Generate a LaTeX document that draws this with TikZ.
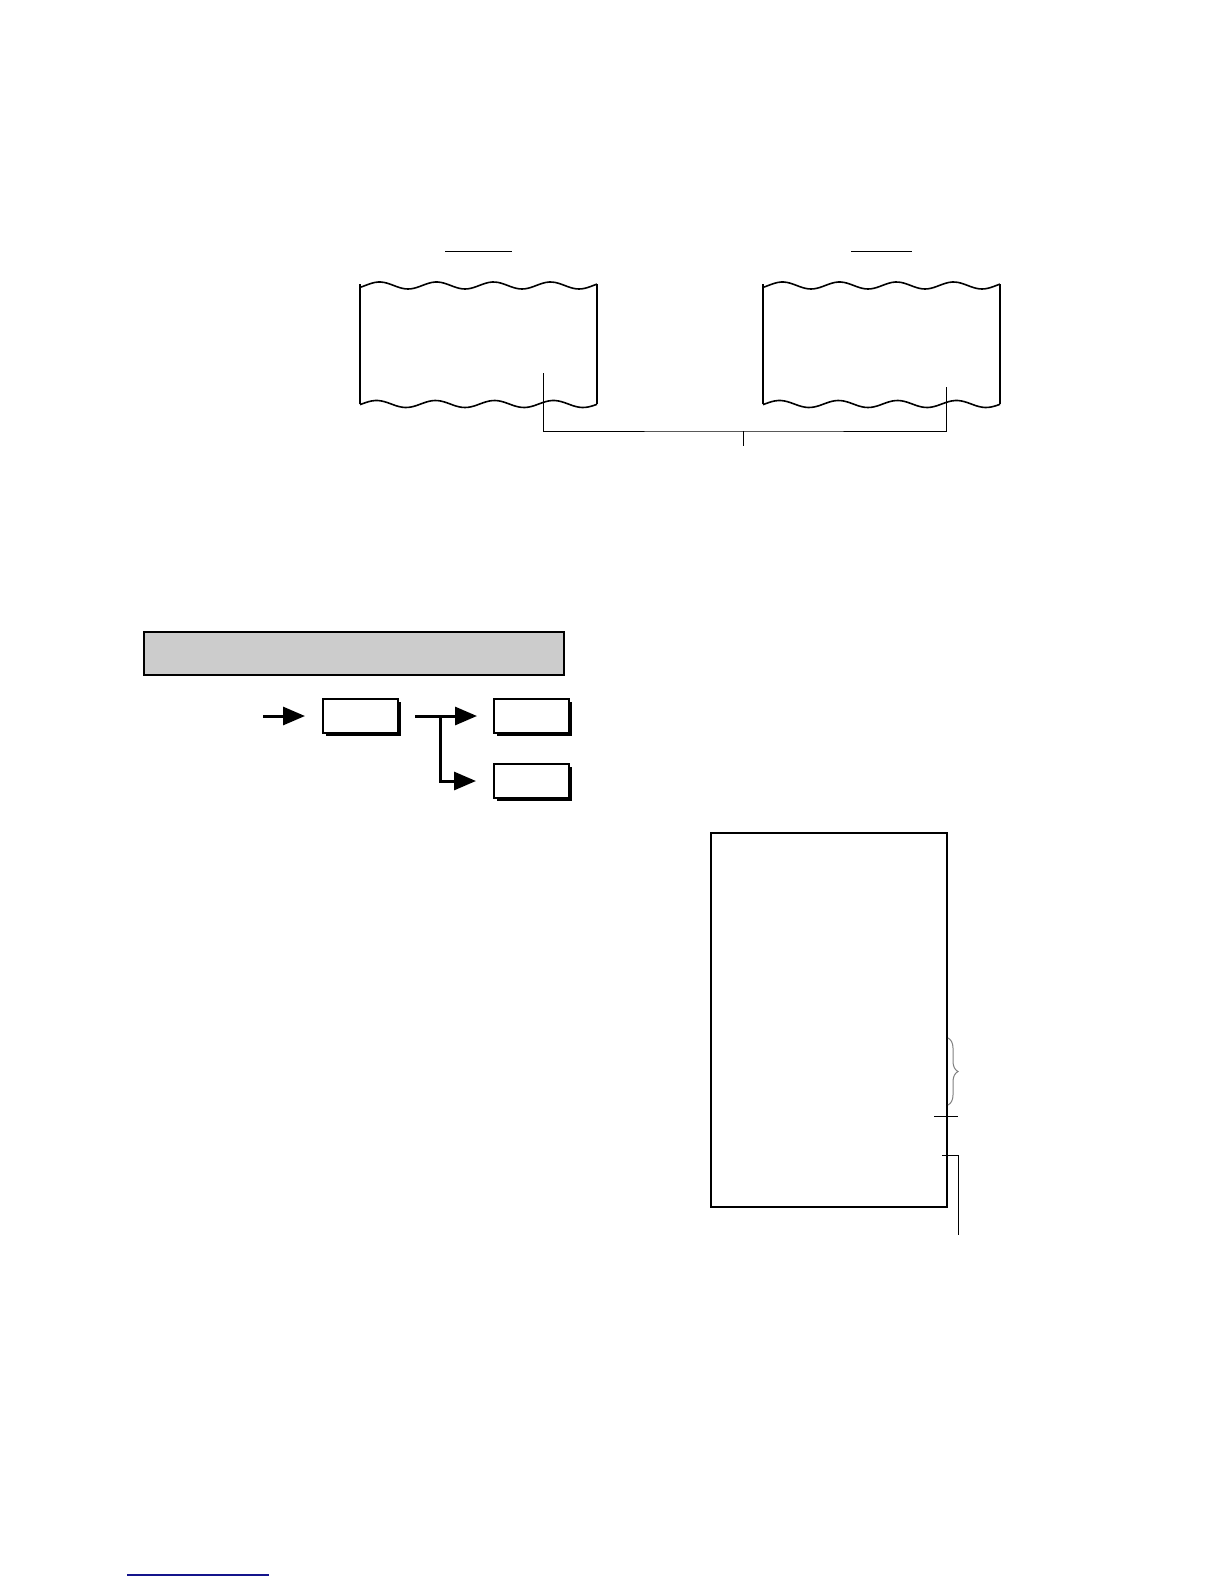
\documentclass[tikz,border=0pt]{standalone}
\usetikzlibrary{arrows.meta,positioning,shadows,decorations.pathreplacing}
\definecolor{linkblue}{RGB}{20,20,140}

\begin{document}
\begin{tikzpicture}[x=0.5pt,y=-0.5pt,
    paper/.style={line width=1pt},
    wave/.style={line width=.8pt},
    thin/.style={line width=.5pt},
    keybox/.style={draw,rectangle,line width=1pt,fill=white,minimum width=37.5pt,minimum height=17pt,inner sep=0pt,
        drop shadow={shadow xshift=1.5pt,shadow yshift=-1.5pt,fill=black,opacity=1}},
    flow/.style={draw,line width=1.5pt,-{Triangle[length=11pt,width=9pt]}},
    bar/.style={draw,line width=1pt,fill=black!20,minimum width=210pt,minimum height=21.5pt,inner sep=0pt}
  ]
  \useasboundingbox (0,0) rectangle (1224,1584);

  % paper strips
  \foreach \px/\ly/\ua/\ub [count=\i] in {360/373/85/152, 763/387/88/149}{
    \begin{scope}[shift={(\px,0)}]
      \draw[thin] (\ua,251) -- (\ub,251);
      \draw[paper] (0,284) -- (0,404) (237,284) -- (237,404);
      \draw[wave] plot[smooth,domain=0:237,samples=80] (\x,{285.5+3.5*cos(6.316*(\x-48))});
      \draw[wave] plot[smooth,domain=0:237,samples=80] (\x,{404+3.5*cos(6.102*(\x-46))});
      \coordinate (lead\i) at (183,\ly);
    \end{scope}
  }
  \coordinate (join) at (743,431);
  \draw[thin] (lead1) |- (join) -| (lead2);
  \draw[thin] (join) -- ++(0,15);

  % key sequence
  \node[bar] (head) at (354,653.5) {};
  \node[keybox] (k1) at (360.5,716) {};
  \node[keybox,right=47pt of k1] (k2) {};
  \node[keybox,below=14.5pt of k2] (k3) {};
  \coordinate[left=29.5pt of k1] (in);
  \coordinate[right=8pt of k1] (out);
  \coordinate[right=20.5pt of k1] (fork);
  \draw[flow,shorten >=8.5pt] (in) -- (k1);
  \draw[flow,shorten >=8pt] (out) -- (k2);
  \draw[flow,shorten >=8.5pt] (fork) |- (k3);

  % slip
  \draw[paper] (711,833) rectangle (947,1207);
  \draw[thin,gray,decorate,decoration={brace,amplitude=5pt}] (948,1038) -- (948,1105);
  \draw[thin] (934,1116) -- (958,1116);
  \coordinate (cut) at (942,1155);
  \draw[thin] (cut) -| (958,1235);

  \draw[line width=.75pt,linkblue] (127,1575) -- (269,1575);
\end{tikzpicture}
\end{document}
